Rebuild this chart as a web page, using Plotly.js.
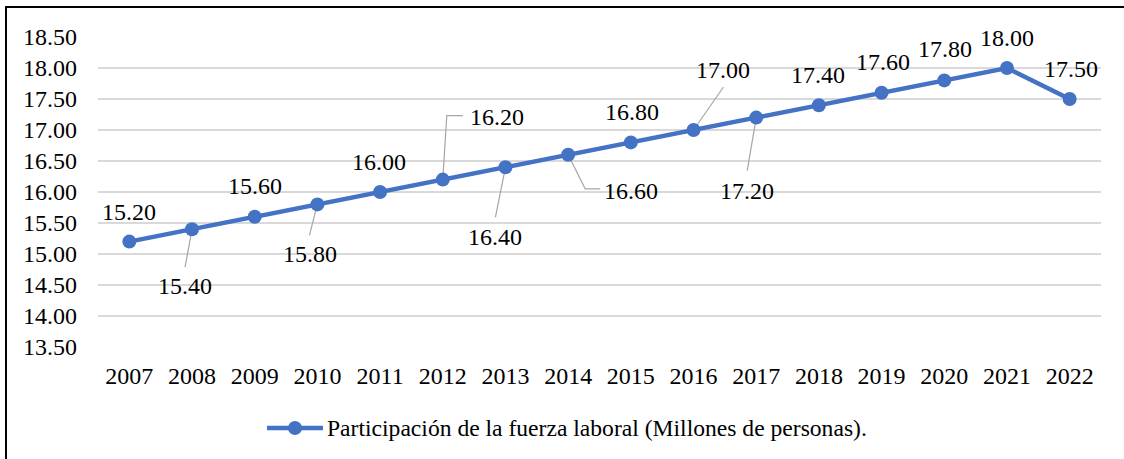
<!DOCTYPE html>
<html>
<head>
<meta charset="utf-8">
<script src="https://cdn.plot.ly/plotly-3.0.1.min.js"></script>
<style>
  html, body { margin: 0; padding: 0; background: #fff; }
  #wrap { position: relative; width: 1124px; height: 459px; overflow: hidden; }
  #chart { position: absolute; left: 0; top: 0; width: 1124px; height: 459px; }
  #frame { position: absolute; left: 5px; top: 6px; width: 2000px; height: 1000px;
           border-top: 2.5px solid #000; border-left: 2px solid #000; pointer-events: none; }
</style>
</head>
<body>
<div id="wrap">
  <div id="chart"></div>
  <div id="frame"></div>
</div>
<script>
// ---- data ----
const years = ['2007','2008','2009','2010','2011','2012','2013','2014','2015','2016','2017','2018','2019','2020','2021','2022'];
const values = [15.20, 15.40, 15.60, 15.80, 16.00, 16.20, 16.40, 16.60, 16.80, 17.00, 17.20, 17.40, 17.60, 17.80, 18.00, 17.50];
const seriesName = 'Participación de la fuerza laboral (Millones de personas).';
const yTickVals = [13.5, 14.0, 14.5, 15.0, 15.5, 16.0, 16.5, 17.0, 17.5, 18.0, 18.5];
const yTickText = yTickVals.map(v => v.toFixed(2));
const labelText = values.map(v => v.toFixed(2));

// ---- style: label offsets from point (screen px, y down) ----
const labelOffsets = [
  [0,-30], [-7,57], [0,-31], [-7,50], [-1,-30], [54,-63], [-10,70], [63,36],
  [1,-30], [29,-60], [-9,73], [-1,-30], [1,-31], [1,-31], [0,-30], [1,-30]
];
// leader lines (screen px offsets from point, y down), null = none
const leaders = [
  null, [[0,0],[-7,38]], null, [[0,0],[-8,31]], null,
  [[0,0],[4,-64],[20,-64]], [[0,0],[-10,50]], [[0,0],[17,34],[32,34]],
  null, [[0,0],[30,-43]], [[0,0],[-9,53]], null, null, null, null, null
];

const FONT = '"Liberation Serif", "Times New Roman", serif';
const FS = 24;
const BLUE = '#4472C4';

const annotations = years.map((yr, i) => ({
  x: i, y: values[i], xref: 'x', yref: 'y',
  text: labelText[i], showarrow: false,
  xanchor: 'center', yanchor: 'middle',
  xshift: labelOffsets[i][0], yshift: -labelOffsets[i][1],
  font: {family: FONT, size: FS, color: '#000'}
}));

const shapes = [];
leaders.forEach((pts, i) => {
  if (!pts) return;
  const path = pts.map((p, k) => (k === 0 ? 'M' : 'L') + p[0] + ',' + (-p[1])).join(' ');
  shapes.push({
    type: 'path', xref: 'x', yref: 'y',
    xsizemode: 'pixel', ysizemode: 'pixel',
    xanchor: i, yanchor: values[i],
    path: path, layer: 'between',
    line: {color: '#a6a6a6', width: 1.2}
  });
});

// ---- custom legend (line + marker + series name) ----
const legY = -0.2613;          // paper y of legend row
const legX0 = 0.1685, legX1 = 0.2243, legTextX = 0.2262;
shapes.push({type: 'line', xref: 'paper', yref: 'paper', x0: legX0, x1: legX1, y0: legY, y1: legY,
             line: {color: BLUE, width: 4.5}});
shapes.push({type: 'circle', xref: 'paper', yref: 'paper', xsizemode: 'pixel', ysizemode: 'pixel',
             xanchor: (legX0 + legX1) / 2, yanchor: legY, x0: -7, x1: 7, y0: -7, y1: 7,
             fillcolor: BLUE, line: {width: 0}});
annotations.push({x: legTextX, y: legY, xref: 'paper', yref: 'paper', text: seriesName,
                  showarrow: false, xanchor: 'left', yanchor: 'middle',
                  font: {family: FONT, size: 23.6, color: '#000'}});

const trace = {
  x: years, y: values, type: 'scatter', mode: 'lines+markers',
  name: seriesName, showlegend: false,
  line: {color: BLUE, width: 4.5},
  marker: {color: BLUE, size: 14},
  hoverinfo: 'skip'
};

const layout = {
  width: 1124, height: 459,
  paper_bgcolor: '#fff', plot_bgcolor: '#fff',
  margin: {l: 98, r: 23, t: 37, b: 112},
  font: {family: FONT, size: FS, color: '#000'},
  showlegend: false,
  xaxis: {
    type: 'category', categoryorder: 'array', categoryarray: years,
    range: [-0.5, years.length - 0.5], autorange: false,
    showgrid: false, zeroline: false, showline: false,
    ticks: '', ticklabelstandoff: 12,
    tickfont: {family: FONT, size: FS, color: '#000'}
  },
  yaxis: {
    range: [13.5, 18.5], autorange: false, tickvals: yTickVals, ticktext: yTickText,
    showgrid: true, gridcolor: '#d9d9d9', gridwidth: 1.3,
    zeroline: false, showline: false, ticks: '', ticklabelstandoff: 20,
    tickfont: {family: FONT, size: FS, color: '#000'}
  },
  annotations: annotations,
  shapes: shapes
};

Plotly.newPlot('chart', [trace], layout, {displayModeBar: false, staticPlot: true});
</script>
</body>
</html>
